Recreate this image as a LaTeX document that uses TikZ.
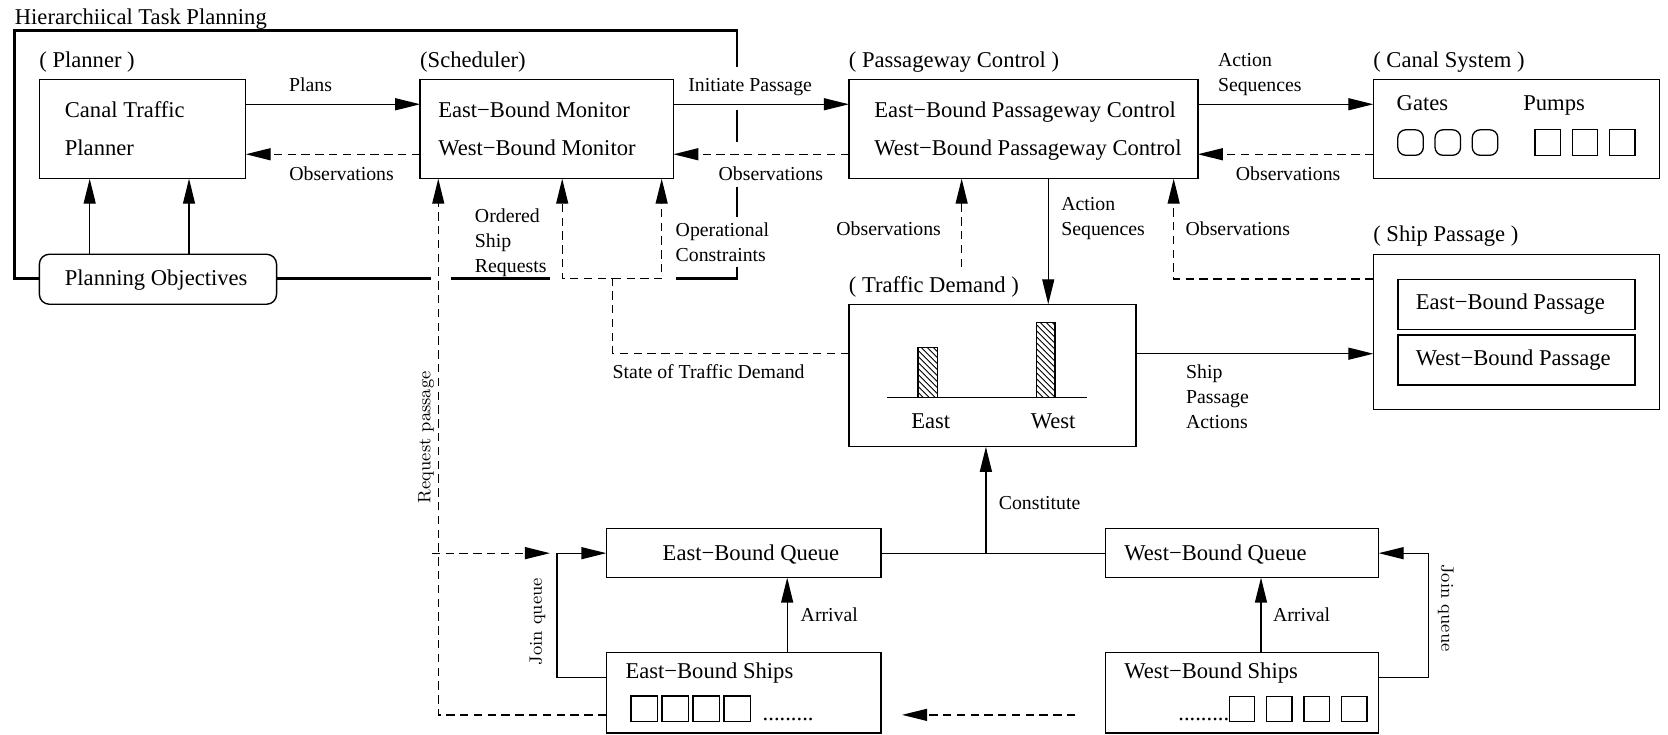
\documentclass[tikz,border=0pt]{standalone}
\usepackage{fontspec}
\setmainfont{Liberation Serif}
\usetikzlibrary{arrows.meta,patterns,fit}

\begin{document}
\begin{tikzpicture}[x=0.532pt,y=-0.532pt,
  every node/.style={inner sep=0pt,outer sep=0pt},
  big/.style={font=\fontsize{11.3}{13}\selectfont},
  small/.style={font=\fontsize{9.9}{12}\selectfont},
  lmsmall/.style={font=\fontsize{9}{11}\fontfamily{lmr}\selectfont},
  box/.style={draw,line width=0.7pt,inner sep=0pt},
  conn/.style={line width=0.65pt},
  arr/.style={conn,-{Triangle[length=12.5pt,width=6pt]}},
  dsh/.style={conn,dash pattern=on 4.2pt off 2.7pt},
  darr/.style={dsh,-{Triangle[length=12.5pt,width=6pt]}},
  frameline/.style={line width=1.4pt},
  ulabel/.style={big,anchor=base west},
  slabel/.style={small,anchor=base west}]

\useasboundingbox (0,0) rectangle (1568,690);

% ---------------- boxes ----------------
\node[box,fit={(37,75) (231,168)}] (planner) {};
\node[box,fit={(395,75) (633,168)}] (sched) {};
\node[box,fit={(798,75) (1126,168)}] (pcontrol) {};
\node[box,fit={(1291,75) (1560,168)}] (canal) {};
\node[box,rounded corners=5pt,fit={(37,239) (260,286)}] (objectives) {};
\node[box,fit={(798,286) (1068,420)}] (traffic) {};
\node[box,fit={(1291,239) (1560,385)}] (shippass) {};
\node[box,fit={(1314,263) (1537,309.5)}] (ebpass) {};
\node[box,fit={(1314,315) (1537,362)}] (wbpass) {};
\node[box,fit={(570,497) (828,543)}] (ebqueue) {};
\node[box,fit={(1039,497) (1296,543)}] (wbqueue) {};
\node[box,fit={(570,613.5) (828,689)}] (ebships) {};
\node[box,fit={(1039,613.5) (1296,689)}] (wbships) {};

% ---------------- box titles and contents ----------------
\node[ulabel] (title) at (14,23) {Hierarchiical Task Planning};
\node[ulabel] (plannerT) at (37,63) {( Planner )};
\node[ulabel] (schedT) at (395,63) {(Scheduler)};
\node[ulabel] (pcontrolT) at (798,63) {( Passageway Control )};
\node[ulabel] (canalT) at (1291,63) {( Canal System )};
\node[ulabel] (trafficT) at (798,275) {( Traffic Demand )};
\node[ulabel] (shippassT) at (1291,227) {( Ship Passage )};

\node[ulabel] (plannerA) at (61,110) {Canal Traffic};
\node[ulabel] (plannerB) at (61,146) {Planner};
\node[ulabel] (schedA) at (412,110) {East−Bound Monitor};
\node[ulabel] (schedB) at (412,146) {West−Bound Monitor};
\node[ulabel] (pcontrolA) at (822,110) {East−Bound Passageway Control};
\node[ulabel] (pcontrolB) at (822,146) {West−Bound Passageway Control};
\node[ulabel] (gates) at (1313,104) {Gates};
\node[ulabel] (pumps) at (1432,104) {Pumps};
\node[ulabel] (objectivesT) at (61,268) {Planning Objectives};
\node[ulabel] (ebpassT) at (1331,291) {East−Bound Passage};
\node[ulabel] (wbpassT) at (1331,344) {West−Bound Passage};
\node[ulabel] (ebqueueT) at (623,526.5) {East−Bound Queue};
\node[ulabel] (wbqueueT) at (1057,526.5) {West−Bound Queue};
\node[ulabel] (ebshipsT) at (588,637.5) {East−Bound Ships};
\node[ulabel] (wbshipsT) at (1057,637.5) {West−Bound Ships};
\node[ulabel] (ebdots) at (717,677) {.........};
\node[big,anchor=base east] (wbdots) at (1155.5,677) {.........};

% gates and pumps of the canal system
\foreach \x in {1314,1349,1384}
  \draw[conn,rounded corners=4pt] (\x,122) rectangle ++(24,24);
\foreach \x in {1443,1478,1513}
  \draw[conn] (\x,122) rectangle ++(24,24);

% queued ships
\foreach \x in {593.3,622.4,651.5,680.6}
  \draw[conn] (\x,654.3) rectangle ++(25,24.1);
\foreach \x in {1155.5,1190.4,1225.7,1261}
  \draw[conn] (\x,655) rectangle ++(24,23.4);

% traffic demand bar chart
\draw[conn,pattern=north west lines] (863,326.5) rectangle (881,373.5);
\draw[conn,pattern=north west lines] (974.6,303) rectangle (991.8,373.5);
\draw[conn] (833.4,373.5) -- (1021.5,373.5);
\node[big,anchor=base] (eastT) at (875,402.6) {East};
\node[big,anchor=base] (westT) at (990,402.6) {West};

% ---------------- hierarchical task planning frame ----------------
\draw[frameline] (objectives.west |- 0,262) -- (14,262) -- (14,28.5)
  -- (692.8,28.5) -- (692.8,62.7);
\draw[frameline] (692.8,103.4) -- (692.8,133.2);
\draw[frameline] (692.8,175.5) -- (692.8,203.7);
\draw[frameline] (692.8,250.7) -- (692.8,262) -- (635.5,262);
\draw[frameline] (objectives.east |- 0,262) -- (405.6,262);
\draw[frameline] (423.7,262) -- (517,262);

% ---------------- connectors, top row ----------------
\draw[arr] (planner.east |- 0,98) -- (sched.west |- 0,98);
\draw[darr] (sched.west |- 0,145) -- (planner.east |- 0,145);
\draw[arr] (sched.east |- 0,98) -- (pcontrol.west |- 0,98);
\draw[darr] (pcontrol.west |- 0,145) -- (sched.east |- 0,145);
\draw[arr] (pcontrol.east |- 0,98) -- (canal.west |- 0,98);
\draw[darr] (canal.west |- 0,145) -- (pcontrol.east |- 0,145);
\draw[arr] (objectives.north -| 84.3,0) -- (planner.south -| 84.3,0);
\draw[arr] (objectives.north -| 177.7,0) -- (planner.south -| 177.7,0);

\node[small,anchor=base] (plansL) at (292,86) {Plans};
\node[slabel] (obsL1) at (272,169.3) {Observations};
\node[slabel] (initL) at (647,86) {Initiate Passage};
\node[slabel] (obsL2) at (675.6,169.3) {Observations};
\node[slabel] (actL1) at (1145,62.7) {Action};
\node[slabel] (actL2) at (1145,86.2) {Sequences};
\node[slabel] (obsL3) at (1161.8,169.3) {Observations};

% ---------------- scheduler inputs ----------------
\coordinate (rqstart) at (406,520);
\coordinate (rqtip) at (517,520);
\draw[darr] (ebships.west |- 0,672) -| (sched.south -| 412,0);
\draw[darr] (rqstart) -- (rqtip);
\draw[darr] (traffic.west |- 0,332) -| (576,262) -| (sched.south -| 528.5,0);
\draw[darr] (576,262) -| (sched.south -| 622,0);

\node[slabel] (ordL1) at (446.5,209.4) {Ordered};
\node[slabel] (ordL2) at (446.5,233) {Ship};
\node[slabel] (ordL3) at (446.5,256) {Requests};
\node[slabel] (opL1) at (635.2,222.5) {Operational};
\node[slabel] (opL2) at (635.2,245.5) {Constraints};
\node[slabel] (stateL) at (576,355.6) {State of Traffic Demand};
\node[lmsmall,rotate=90] (reqL) at (400.5,411) {Request passage};

% ---------------- passageway control links ----------------
\coordinate (tdobs) at (904,251);
\draw[darr] (tdobs) -- (pcontrol.south -| tdobs);
\draw[arr] (pcontrol.south -| 985.4,0) -- (traffic.north -| 985.4,0);
\draw[darr] (shippass.west |- 0,262.3) -| (pcontrol.south -| 1103.3,0);
\draw[arr] (traffic.east |- 0,332.5) -- (shippass.west |- 0,332.5);

\node[small,anchor=base east] (obsL4) at (884.5,221) {Observations};
\node[slabel] (actL3) at (997.7,198.3) {Action};
\node[slabel] (actL4) at (997.7,221) {Sequences};
\node[slabel] (obsL5) at (1114.5,221) {Observations};
\node[slabel] (spaL1) at (1115,355.6) {Ship};
\node[slabel] (spaL2) at (1115,379) {Passage};
\node[slabel] (spaL3) at (1115,402.6) {Actions};

% ---------------- queues and ships ----------------
\draw[conn] (ebqueue.east) -- (wbqueue.west);
\coordinate (constj) at (926.8,520);
\draw[arr] (constj) -- (traffic.south -| constj);
\node[slabel] (constL) at (939,479.4) {Constitute};

\draw[arr] (ebships.north -| 740,0) -- (ebqueue.south -| 740,0);
\draw[arr] (wbships.north -| 1185.4,0) -- (wbqueue.south -| 1185.4,0);
\node[slabel] (arrL1) at (752.7,584.4) {Arrival};
\node[slabel] (arrL2) at (1196.7,584.4) {Arrival};

\draw[arr] (ebships.west |- 0,637) -| (523.5,520) -- (ebqueue.west);
\draw[arr] (wbships.east |- 0,637) -| (1343,520) -- (wbqueue.east);
\node[lmsmall,rotate=90] (joinL1) at (505.3,584.4) {Join queue};
\node[lmsmall,rotate=-90] (joinL2) at (1359,571.5) {Join queue};

\coordinate (wtoe1) at (1011,672);
\coordinate (wtoe2) at (848,672);
\draw[darr] (wtoe1) -- (wtoe2);

\end{tikzpicture}
\end{document}
